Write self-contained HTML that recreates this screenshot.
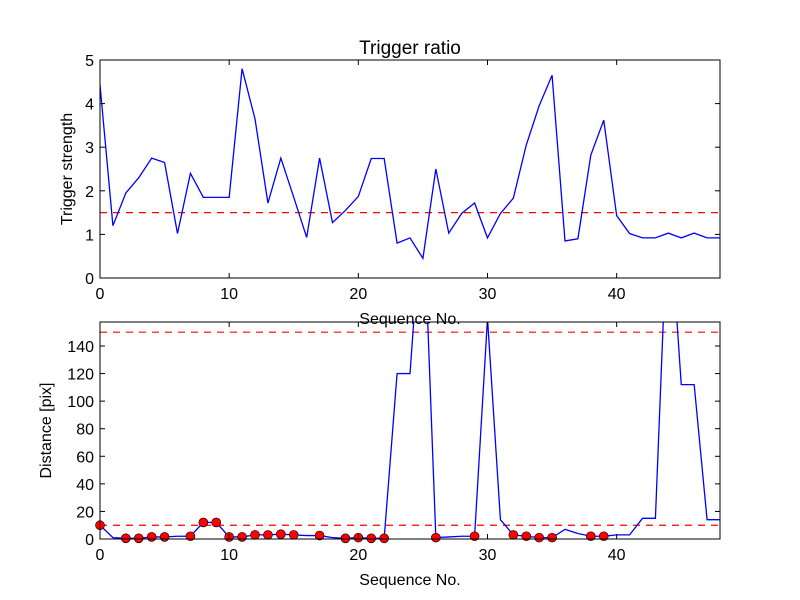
<!DOCTYPE html>
<html><head><meta charset="utf-8"><style>
body{margin:0;background:#fff;}
svg{display:block;font-family:"Liberation Sans","DejaVu Sans",sans-serif;}
</style></head><body>
<svg id="fig" width="800" height="600" viewBox="0 0 800 600">
<rect width="800" height="600" fill="#fff"/>
<text x="410" y="54" font-size="19" text-anchor="middle">Trigger ratio</text>
<g id="top"></g>
<g id="bot"></g>
</svg>
<script>
const ratioValues=[4.43,1.2,1.95,2.3,2.75,2.65,1.02,2.4,1.85,1.85,1.85,4.8,3.65,1.72,2.75,1.85,0.93,2.75,1.27,1.55,1.87,2.74,2.74,0.8,0.92,0.45,2.5,1.03,1.48,1.72,0.92,1.48,1.83,3.05,3.95,4.65,0.85,0.9,2.82,3.62,1.43,1.02,0.92,0.92,1.03,0.92,1.03,0.92,0.92];
const ratioThreshold=1.5;
const distValues=[10,1,0.5,0.5,1.5,1.5,2,2,12,12,1.5,1.5,3,3,3.5,3,2.5,2.5,1,0.5,1,0.5,0.5,120,120,250,1,1.5,2,2,160,14,3,2,1,1,7,4,2,2,3,3,15,15,250,112,112,14,14];
const markerIdx=[0,2,3,4,5,7,8,9,10,11,12,13,14,15,17,19,20,21,22,26,29,32,33,34,35,38,39];
const distThresholds=[10,150];
const xTicks=[0,10,20,30,40];
const ratioTicks=[0,1,2,3,4,5];
const distTicks=[0,20,40,60,80,100,120,140];
const NS="http://www.w3.org/2000/svg";
function mk(p,t,a){const e=document.createElementNS(NS,t);for(const k in a)e.setAttribute(k,a[k]);p.appendChild(e);return e;}
function panel(g,top,bottom,ymax,vals,thr,yticks,ylabel,ylx,markers){
  const L=100,R=720,xmax=48;
  const sx=v=>L+(v/xmax)*(R-L), sy=v=>bottom-(v/ymax)*(bottom-top);
  const cid='clip'+top;
  const cp=mk(mk(g,'defs',{}),'clipPath',{id:cid});mk(cp,'rect',{x:L,y:top,width:R-L,height:bottom-top});
  const cg=mk(g,'g',{'clip-path':'url(#'+cid+')'});
  thr.forEach(t=>{const l=mk(cg,'line',{x1:L,x2:R,y1:sy(t),y2:sy(t),stroke:'#ff0000','stroke-width':1.2,'stroke-dasharray':'7,6'});
    });
  const pl=mk(cg,'polyline',{points:vals.map((v,i)=>sx(i)+','+sy(v)).join(' '),fill:'none',stroke:'#0000ff','stroke-width':1.3});
  
  if(markers){markers.forEach(i=>{const c=mk(g,'circle',{cx:sx(i),cy:sy(vals[i]),r:4.5,fill:'#ff0000',stroke:'#000','stroke-width':0.6});
    });}
  const fr=mk(g,'rect',{x:L,y:top,width:R-L,height:bottom-top,fill:'none',stroke:'#000','stroke-width':1});
  
  xTicks.forEach(t=>{const x=sx(t);mk(g,'line',{x1:x,x2:x,y1:bottom,y2:bottom-5,stroke:'#000'});mk(g,'line',{x1:x,x2:x,y1:top,y2:top+5,stroke:'#000'});
    const tx=mk(g,'text',{x:x,y:bottom+21,'font-size':16,'text-anchor':'middle'});tx.textContent=t;
    });
  yticks.forEach(t=>{const y=sy(t);mk(g,'line',{x1:L,x2:L+5,y1:y,y2:y,stroke:'#000'});mk(g,'line',{x1:R,x2:R-5,y1:y,y2:y,stroke:'#000'});
    const tx=mk(g,'text',{x:L-6,y:y+6,'font-size':16,'text-anchor':'end'});tx.textContent=t;
    });
  const xl=mk(g,'text',{x:410,y:bottom+46,'font-size':16,'text-anchor':'middle'});xl.textContent='Sequence No.';
  
  const cy=(top+bottom)/2;
  const yl=mk(g,'text',{x:ylx,y:cy,'font-size':16,'text-anchor':'middle',transform:'rotate(-90 '+ylx+' '+cy+')'});yl.textContent=ylabel;
  
}
panel(document.getElementById('top'),60,278,5,ratioValues,[ratioThreshold],ratioTicks,'Trigger strength',72,null);
panel(document.getElementById('bot'),322,539,157.4,distValues,distThresholds,distTicks,'Distance [pix]',51,markerIdx);
</script>
</body></html>
